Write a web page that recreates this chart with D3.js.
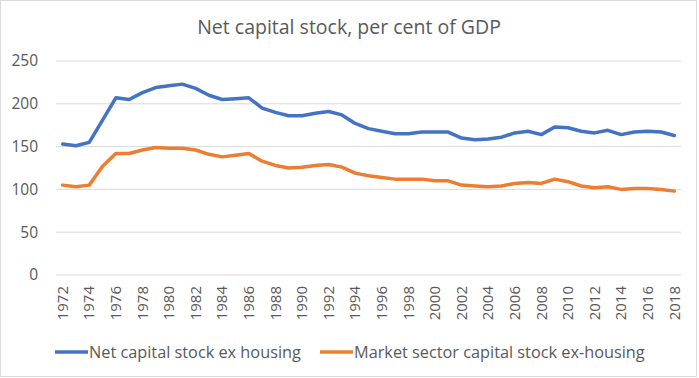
<!DOCTYPE html>
<html lang="en">
  <head>
    <meta charset="UTF-8" />
    <title>Net capital stock, per cent of GDP</title>
    <style>
      body { margin: 0; background: #fff; }
      text { font-family: "Open Sans", sans-serif; fill: #595959; }
    </style>
  </head>
  <body>
    <script src="https://d3js.org/d3.v7.min.js"></script>
    <script>
      const width = 699
      const height = 378

      const years = d3.range(1972, 2019)
      const netCapital = [153, 151, 155, 181, 207, 205, 213, 219, 221, 223, 218, 210, 205, 206, 207,
        195, 190, 186, 186, 189, 191, 187, 177, 171, 168, 165, 165, 167, 167, 167, 160, 158,
        159, 161, 166, 168, 164, 173, 172, 168, 166, 169, 164, 167, 168, 167, 163]
      const marketSector = [105, 103, 105, 127, 142, 142, 146, 149, 148, 148, 146, 141, 138, 140, 142,
        133, 128, 125, 126, 128, 129, 126, 119, 116, 114, 112, 112, 112, 110, 110, 105, 104,
        103, 104, 107, 108, 107, 112, 109, 104, 102, 103, 100, 101, 101, 100, 98]
      const yTicks = [0, 50, 100, 150, 200, 250]
      const seriesNames = ["Net capital stock ex housing", "Market sector capital stock ex-housing"]
      const colors = ["#4472C4", "#ED7D31"]

      const margin = { top: 61, right: 18, bottom: 103, left: 56 }

      const svg = d3.select("body").append("svg")
        .attr("width", width)
        .attr("height", height)

      // chart border
      svg.append("rect")
        .attr("x", 0.5).attr("y", 0.5)
        .attr("width", width - 3).attr("height", height - 2)
        .attr("fill", "#fff")
        .attr("stroke", "#d9d9d9")

      const x = d3.scalePoint()
        .domain(years)
        .range([margin.left, width - margin.right])
        .padding(0.5)

      const y = d3.scaleLinear()
        .domain([0, 250])
        .range([height - margin.bottom, margin.top])

      // gridlines
      svg.append("g")
        .selectAll("line")
        .data(yTicks)
        .enter()
        .append("line")
        .attr("x1", margin.left)
        .attr("x2", width - margin.right)
        .attr("y1", d => y(d))
        .attr("y2", d => y(d))
        .attr("stroke", "#d9d9d9")
        .attr("stroke-width", 1)

      // y labels
      svg.append("g")
        .selectAll("text")
        .data(yTicks)
        .enter()
        .append("text")
        .attr("x", 38)
        .attr("y", d => y(d))
        .attr("dy", "0.35em")
        .attr("text-anchor", "end")
        .style("font-size", "15.5px")
        .text(d => d)

      // x labels, every other year, rotated
      svg.append("g")
        .selectAll("text")
        .data(years.filter(d => d % 2 === 0))
        .enter()
        .append("text")
        .attr("transform", d => `translate(${x(d)},${y(0) + 11}) rotate(-90)`)
        .attr("dy", "0.35em")
        .attr("text-anchor", "end")
        .style("font-size", "15px")
        .text(d => d)

      const line = d3.line()
        .x((d, i) => x(years[i]))
        .y(d => y(d))

      ;[netCapital, marketSector].forEach((s, i) => {
        svg.append("path")
          .datum(s)
          .attr("fill", "none")
          .attr("stroke", colors[i])
          .attr("stroke-width", 3.5)
          .attr("stroke-linejoin", "round")
          .attr("stroke-linecap", "round")
          .attr("d", line)
      })

      // title
      svg.append("text")
        .attr("x", 349)
        .attr("y", 34)
        .attr("text-anchor", "middle")
        .style("font-size", "19.5px")
        .text("Net capital stock, per cent of GDP")

      // legend
      const legendX = [55, 320]
      const legend = svg.append("g")
        .selectAll("g")
        .data(seriesNames)
        .enter()
        .append("g")
        .attr("transform", (d, i) => `translate(${legendX[i]},352)`)
      legend.append("line")
        .attr("x1", 0).attr("x2", 33)
        .attr("stroke", (d, i) => colors[i])
        .attr("stroke-width", 3.5)
      legend.append("text")
        .attr("x", 34)
        .attr("dy", "0.35em")
        .style("font-size", "16.3px")
        .text(d => d)
    </script>
  </body>
</html>
